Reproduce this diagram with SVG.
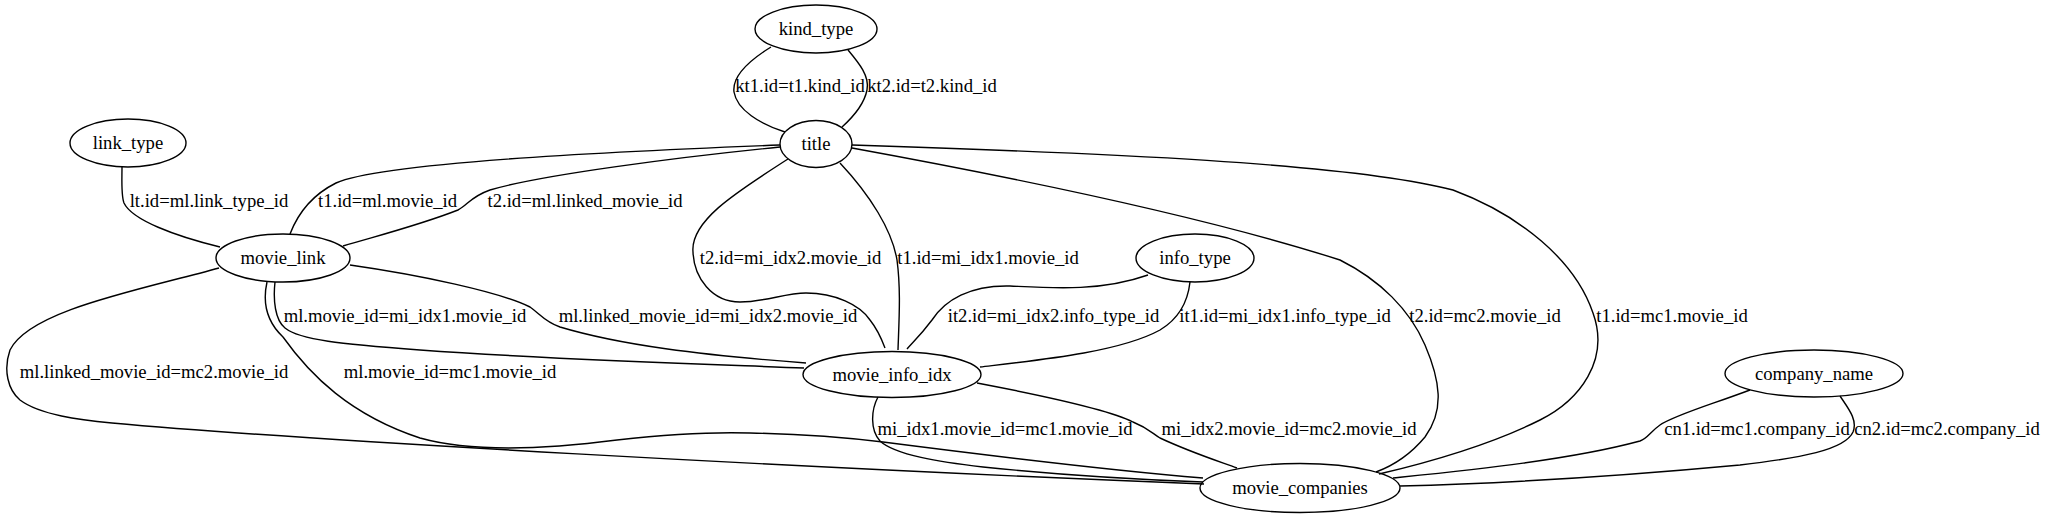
<svg xmlns="http://www.w3.org/2000/svg" width="2046" height="517" viewBox="0 0 2046 517">
<style>
.n ellipse{fill:none;stroke:#000;stroke-width:1.4}
text{font-family:"Liberation Serif","Times New Roman",serif;font-size:18.67px;fill:#000;text-anchor:middle}
.e path{fill:none;stroke:#000;stroke-width:1.4}
</style>
<rect width="2046" height="517" fill="#fff"/>
<g id="connectors" class="e">
<path d="M771,47 C750,60 732,76 734,92 C737,110 760,124 785,132"/>
<path d="M848,50 C858,62 870,76 867,90 C864,105 852,118 842,127"/>
<path d="M122,167 C122,180 121,195 124,203 C132,220 175,236 220,247"/>
<path d="M780,145 C600,152 380,163 336,183 C318,192 300,208 290,234"/>
<path d="M780,147 C680,157 540,175 490,190 C470,197 468,205 458,210 C420,225 380,235 343,246"/>
<path d="M788,159 C740,190 690,220 693,252 C694,278 712,302 740,302 C765,302 785,293 806,293 C835,293 860,305 870,320 C878,330 882,340 885,348"/>
<path d="M840,163 C870,195 892,230 897,260 C901,290 899,320 898,350"/>
<path d="M852,148 C1000,175 1200,215 1340,260 C1380,280 1410,310 1425,345 C1440,380 1445,410 1425,437 C1410,455 1395,465 1376,472"/>
<path d="M852,145 C1100,153 1350,163 1453,190 C1520,215 1575,260 1593,313 C1610,360 1580,400 1540,420 C1490,445 1430,462 1379,474"/>
<path d="M1148,275 C1100,292 1050,288 1010,286 C970,285 945,300 932,320 C920,336 912,343 907,349"/>
<path d="M1190,282 C1188,300 1180,318 1160,330 C1120,352 1040,360 980,367"/>
<path d="M275,282 C273,300 275,320 285,328 C300,340 340,344 420,350 C560,360 700,364 804,368"/>
<path d="M350,265 C420,275 500,292 530,307 C540,314 545,322 560,327 C620,345 700,355 806,363"/>
<path d="M219,268 C140,290 30,310 10,350 C3,370 8,390 20,400 C40,415 80,420 112,423 C300,440 800,468 1204,484"/>
<path d="M267,282 C263,300 265,320 283,337 C310,375 350,415 420,438 C470,452 540,450 617,440 C680,433 720,432 750,433 C800,434 850,438 883,442 C1000,457 1130,472 1203,478"/>
<path d="M878,397 C871,410 870,430 880,441 C895,455 940,462 983,467 C1070,476 1150,480 1203,482"/>
<path d="M977,383 C1040,395 1110,410 1133,422 C1148,428 1152,433 1160,438 C1190,452 1215,460 1237,468"/>
<path d="M1750,390 C1710,405 1675,415 1660,425 C1650,432 1648,438 1640,441 C1570,460 1470,470 1393,478"/>
<path d="M1840,396 C1848,408 1858,420 1853,432 C1845,450 1800,458 1740,465 C1600,478 1480,484 1400,486"/>
<text x="800" y="92">kt1.id=t1.kind_id</text>
<text x="932" y="92">kt2.id=t2.kind_id</text>
<text x="209" y="207">lt.id=ml.link_type_id</text>
<text x="387.5" y="207">t1.id=ml.movie_id</text>
<text x="585" y="207">t2.id=ml.linked_movie_id</text>
<text x="790.5" y="263.5">t2.id=mi_idx2.movie_id</text>
<text x="988" y="263.5">t1.id=mi_idx1.movie_id</text>
<text x="1053.5" y="322">it2.id=mi_idx2.info_type_id</text>
<text x="1285" y="322">it1.id=mi_idx1.info_type_id</text>
<text x="1485" y="322">t2.id=mc2.movie_id</text>
<text x="1672" y="322">t1.id=mc1.movie_id</text>
<text x="405" y="322">ml.movie_id=mi_idx1.movie_id</text>
<text x="708" y="322">ml.linked_movie_id=mi_idx2.movie_id</text>
<text x="154" y="378">ml.linked_movie_id=mc2.movie_id</text>
<text x="450" y="378">ml.movie_id=mc1.movie_id</text>
<text x="1005" y="435">mi_idx1.movie_id=mc1.movie_id</text>
<text x="1289" y="435">mi_idx2.movie_id=mc2.movie_id</text>
<text x="1757" y="435">cn1.id=mc1.company_id</text>
<text x="1947" y="435">cn2.id=mc2.company_id</text>
</g>
<g id="kind_type" class="n"><ellipse cx="816" cy="29" rx="61" ry="24"/><text x="816" y="35">kind_type</text></g>
<g id="title" class="n"><ellipse cx="816" cy="144" rx="36" ry="23.5"/><text x="816" y="150">title</text></g>
<g id="link_type" class="n"><ellipse cx="128" cy="143" rx="58" ry="24"/><text x="128" y="149">link_type</text></g>
<g id="movie_link" class="n"><ellipse cx="283" cy="258" rx="67" ry="24"/><text x="283" y="264">movie_link</text></g>
<g id="info_type" class="n"><ellipse cx="1195" cy="258" rx="59" ry="24"/><text x="1195" y="264">info_type</text></g>
<g id="movie_info_idx" class="n"><ellipse cx="892" cy="374.5" rx="89" ry="23"/><text x="892" y="380.5">movie_info_idx</text></g>
<g id="company_name" class="n"><ellipse cx="1814" cy="373.5" rx="89" ry="23.5"/><text x="1814" y="379.5">company_name</text></g>
<g id="movie_companies" class="n"><ellipse cx="1300" cy="488" rx="100" ry="24.5"/><text x="1300" y="494">movie_companies</text></g>
</svg>
